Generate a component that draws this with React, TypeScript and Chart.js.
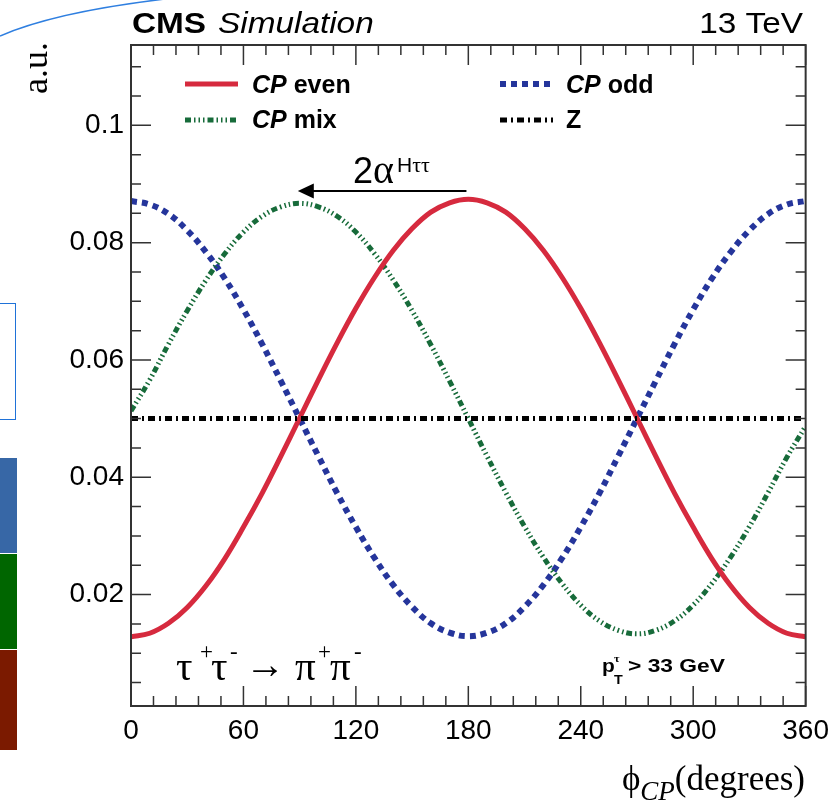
import React, { useEffect, useRef } from "react";
import { Chart, registerables } from "chart.js";

Chart.register(...registerables);

// ---------------- data ----------------
const phiDeg = [0, 10, 20, 30, 40, 50, 60, 70, 80, 90, 100, 110, 120, 130, 140, 150, 160, 170, 180, 190, 200, 210, 220, 230, 240, 250, 260, 270, 280, 290, 300, 310, 320, 330, 340, 350, 360];
const cpEven = [0.0128, 0.0134, 0.0151, 0.0178, 0.0215, 0.0261, 0.0315, 0.0373, 0.0436, 0.0501, 0.0566, 0.0629, 0.0688, 0.0741, 0.0787, 0.0824, 0.0852, 0.0868, 0.0874, 0.0868, 0.0852, 0.0824, 0.0787, 0.0741, 0.0688, 0.0629, 0.0566, 0.0501, 0.0436, 0.0373, 0.0315, 0.0261, 0.0215, 0.0178, 0.0151, 0.0134, 0.0128];
const cpOdd = [0.0871, 0.0865, 0.0849, 0.0821, 0.0784, 0.0739, 0.0686, 0.0627, 0.0564, 0.05, 0.0436, 0.0373, 0.0315, 0.0262, 0.0216, 0.0179, 0.0151, 0.0135, 0.0129, 0.0135, 0.0151, 0.0179, 0.0216, 0.0262, 0.0315, 0.0373, 0.0436, 0.05, 0.0564, 0.0627, 0.0686, 0.0739, 0.0784, 0.0821, 0.0849, 0.0865, 0.0871];
const cpMix = [0.0513, 0.0566, 0.0627, 0.0684, 0.0736, 0.0781, 0.0818, 0.0845, 0.0861, 0.0867, 0.0861, 0.0845, 0.0818, 0.0781, 0.0736, 0.0684, 0.0626, 0.0564, 0.05, 0.0436, 0.0374, 0.0316, 0.0264, 0.0219, 0.0182, 0.0155, 0.0139, 0.0133, 0.0139, 0.0155, 0.0182, 0.0219, 0.0264, 0.0316, 0.0374, 0.0434, 0.0487];
const zPhi = [0, 360];
const zValues = [0.05, 0.05];

const xTickValues = [0, 60, 120, 180, 240, 300, 360];
const xTickLabels = ["0", "60", "120", "180", "240", "300", "360"];
const yTickValues = [0.02, 0.04, 0.06, 0.08, 0.1];
const yTickLabels = ["0.02", "0.04", "0.06", "0.08", "0.1"];
const yMin = 0.001;
const yMax = 0.1137;

const RED = "#d62a3e";
const BLUE = "#25359b";
const GREEN = "#176b3a";
const BLACK = "#000000";

const evenDash: number[] = [];
const oddDash = [6, 5];
const mixDash = [6, 3, 1.5, 3, 1.5, 3, 1.5, 3];
const zDash = [7, 4, 2, 4];

const legendEntries = [
  { cp: "CP", rest: " even", color: RED, dash: evenDash, width: 5, col: 0, row: 0 },
  { cp: "CP", rest: " odd", color: BLUE, dash: oddDash, width: 6, col: 1, row: 0 },
  { cp: "CP", rest: " mix", color: GREEN, dash: mixDash, width: 5, col: 0, row: 1 },
  { cp: "", rest: "Z", color: BLACK, dash: zDash, width: 5, col: 1, row: 1 },
];

// arrow annotation (data units)
const arrowFrom = 179;
const arrowTo = 89;
const arrowY = 0.0888;

const SANS = "'Liberation Sans', Arial, Helvetica, sans-serif";
const SERIF = "'Liberation Serif', 'Times New Roman', serif";

function txt(
  ctx: CanvasRenderingContext2D,
  s: string,
  x: number,
  y: number,
  font: string,
  align: CanvasTextAlign = "left",
  sx = 1
): number {
  ctx.save();
  ctx.font = font;
  ctx.textAlign = align;
  ctx.textBaseline = "alphabetic";
  ctx.fillStyle = "#000";
  ctx.translate(x, y);
  ctx.scale(sx, 1);
  ctx.fillText(s, 0, 0);
  const w = ctx.measureText(s).width * sx;
  ctx.restore();
  return w;
}

function measure(ctx: CanvasRenderingContext2D, s: string, font: string, sx = 1) {
  ctx.save();
  ctx.font = font;
  const w = ctx.measureText(s).width * sx;
  ctx.restore();
  return w;
}

const decorPlugin = {
  id: "rootDecor",
  afterDraw(chart: any) {
    const ctx: CanvasRenderingContext2D = chart.ctx;
    const a = chart.chartArea;
    const xs = chart.scales.x;
    const ys = chart.scales.y;
    ctx.save();

    // frame
    ctx.strokeStyle = "#333";
    ctx.lineWidth = 2;
    ctx.setLineDash([]);
    ctx.strokeRect(a.left, a.top, a.right - a.left, a.bottom - a.top);

    // ticks (inside, all four sides)
    ctx.lineWidth = 1.5;
    ctx.beginPath();
    for (let k = 0; k <= 30; k++) {
      const v = k * 12;
      const px = xs.getPixelForValue(v);
      const len = k % 5 === 0 ? 20 : 10;
      ctx.moveTo(px, a.bottom);
      ctx.lineTo(px, a.bottom - len);
      ctx.moveTo(px, a.top);
      ctx.lineTo(px, a.top + len);
    }
    for (let k = 1; k <= 22; k++) {
      const v = k * 0.005;
      if (v < yMin || v > yMax) continue;
      const py = ys.getPixelForValue(v);
      const len = k % 4 === 0 ? 20 : 10;
      ctx.moveTo(a.left, py);
      ctx.lineTo(a.left + len, py);
      ctx.moveTo(a.right, py);
      ctx.lineTo(a.right - len, py);
    }
    ctx.stroke();

    // header
    txt(ctx, "CMS", 132, 33, `bold 29px ${SANS}`, "left", 1.15);
    txt(ctx, "Simulation", 218, 33, `italic 29px ${SANS}`, "left", 1.15);
    txt(ctx, "13 TeV", 803, 33, `29px ${SANS}`, "right", 1.15);

    // y title
    ctx.save();
    ctx.translate(47, 42);
    ctx.rotate(-Math.PI / 2);
    ctx.font = `36px ${SERIF}`;
    ctx.textAlign = "right";
    ctx.fillStyle = "#000";
    ctx.fillText("a.u.", 0, 0);
    ctx.restore();

    // x title
    const degFont = `35px ${SERIF}`;
    const cpFont = `italic 27px ${SERIF}`;
    const wDeg = measure(ctx, "(degrees)", degFont);
    txt(ctx, "(degrees)", 805, 790, degFont, "right");
    const wCP = measure(ctx, "CP", cpFont);
    txt(ctx, "CP", 805 - wDeg, 800, cpFont, "right");
    txt(ctx, "\u03D5", 805 - wDeg - wCP, 790, degFont, "right");

    // legend
    const colLine = [185, 500];
    const colText = [252, 566];
    const rowLine = [84, 120];
    const rowText = [93, 128];
    for (const e of legendEntries) {
      ctx.save();
      ctx.strokeStyle = e.color;
      ctx.lineWidth = e.width;
      ctx.setLineDash(e.dash);
      ctx.beginPath();
      ctx.moveTo(colLine[e.col], rowLine[e.row]);
      ctx.lineTo(colLine[e.col] + 53, rowLine[e.row]);
      ctx.stroke();
      ctx.restore();
      let x = colText[e.col];
      if (e.cp) x += txt(ctx, e.cp, x, rowText[e.row], `italic bold 25px ${SANS}`);
      txt(ctx, e.rest, x, rowText[e.row], `bold 25px ${SANS}`);
    }

    // arrow 2alpha
    const ax1 = xs.getPixelForValue(arrowFrom);
    const ax2 = xs.getPixelForValue(arrowTo);
    const ay = ys.getPixelForValue(arrowY);
    ctx.strokeStyle = "#000";
    ctx.fillStyle = "#000";
    ctx.lineWidth = 2;
    ctx.setLineDash([]);
    ctx.beginPath();
    ctx.moveTo(ax1, ay);
    ctx.lineTo(ax2 + 12, ay);
    ctx.stroke();
    ctx.beginPath();
    ctx.moveTo(ax2, ay);
    ctx.lineTo(ax2 + 16, ay - 7.5);
    ctx.lineTo(ax2 + 16, ay + 7.5);
    ctx.closePath();
    ctx.fill();

    let x2 = 353;
    x2 += txt(ctx, "2", x2, 183, `36px ${SANS}`);
    x2 += txt(ctx, "\u03B1", x2, 183, `40px ${SERIF}`);
    x2 += 3;
    x2 += txt(ctx, "H", x2, 172, `21px ${SANS}`);
    txt(ctx, "\u03C4\u03C4", x2, 172, `22px ${SERIF}`);

    // tau tau -> pi pi
    const big = `41px ${SERIF}`;
    const sup = `23px ${SERIF}`;
    const bl = 680;
    const sbl = 659;
    txt(ctx, "\u03C4", 176, bl, big);
    txt(ctx, "+", 200, sbl, sup);
    txt(ctx, "\u03C4", 211, bl, big);
    txt(ctx, "-", 230, sbl, sup);
    txt(ctx, "\u2192", 245, bl - 2, `40px ${SERIF}`);
    txt(ctx, "\u03C0", 295, bl, big);
    txt(ctx, "+", 318, sbl, sup);
    txt(ctx, "\u03C0", 330, bl, big);
    txt(ctx, "-", 354, sbl, sup);

    // pT > 33 GeV
    txt(ctx, "p", 602, 672, `bold 19px ${SANS}`, "left", 1.1);
    txt(ctx, "T", 614, 684, `bold 13px ${SANS}`, "left", 1.1);
    txt(ctx, "\u03C4", 614, 662, `bold 11px ${SERIF}`, "left", 1.1);
    txt(ctx, "> 33 GeV", 628, 672, `bold 19px ${SANS}`, "left", 1.2);

    ctx.restore();
  },
};

function toPoints(xs: number[], ys: number[]) {
  return xs.map((x, i) => ({ x, y: ys[i] }));
}

export default function App() {
  const ref = useRef<HTMLCanvasElement | null>(null);

  useEffect(() => {
    if (!ref.current) return;
    const chart = new Chart(ref.current, {
      type: "line",
      data: {
        datasets: [
          {
            label: "Z",
            data: toPoints(zPhi, zValues),
            borderColor: BLACK,
            borderWidth: 5,
            borderDash: zDash,
            pointRadius: 0,
            fill: false,
          },
          {
            label: "CP even",
            data: toPoints(phiDeg, cpEven),
            borderColor: RED,
            borderWidth: 5,
            pointRadius: 0,
            fill: false,
            tension: 0.4,
          },
          {
            label: "CP mix",
            data: toPoints(phiDeg, cpMix),
            borderColor: GREEN,
            borderWidth: 5,
            borderDash: mixDash,
            pointRadius: 0,
            fill: false,
            tension: 0.4,
          },
          {
            label: "CP odd",
            data: toPoints(phiDeg, cpOdd),
            borderColor: BLUE,
            borderWidth: 6,
            borderDash: oddDash,
            pointRadius: 0,
            fill: false,
            tension: 0.4,
          },
        ],
      },
      options: {
        responsive: false,
        animation: false,
        devicePixelRatio: 1,
        layout: { padding: { left: 0, top: 45, right: 31, bottom: 0 } },
        plugins: {
          legend: { display: false },
          tooltip: { enabled: false },
          title: { display: false },
        },
        elements: { point: { radius: 0 } },
        scales: {
          x: {
            type: "linear",
            min: 0,
            max: 360,
            grid: { display: false, drawTicks: false },
            border: { display: false },
            afterBuildTicks: (s: any) => {
              s.ticks = xTickValues.map((v) => ({ value: v }));
            },
            afterFit: (s: any) => {
              s.height = 98;
            },
            ticks: {
              padding: 8,
              maxRotation: 0,
              autoSkip: false,
              color: "#000",
              font: { family: SANS, size: 28 },
              callback: (_v: any, i: number) => xTickLabels[i],
            },
          },
          y: {
            type: "linear",
            min: yMin,
            max: yMax,
            grid: { display: false, drawTicks: false },
            border: { display: false },
            afterBuildTicks: (s: any) => {
              s.ticks = yTickValues.map((v) => ({ value: v }));
            },
            afterFit: (s: any) => {
              s.width = 131;
            },
            ticks: {
              padding: 7,
              autoSkip: false,
              color: "#000",
              font: { family: SANS, size: 28 },
              callback: (_v: any, i: number) => yTickLabels[i],
            },
          },
        },
      } as any,
      plugins: [decorPlugin],
    });
    return () => chart.destroy();
  }, []);

  return (
    <div style={{ position: "fixed", left: 0, top: 0, width: 837, height: 804, background: "#fff", overflow: "hidden" }}>
      <canvas ref={ref} width={837} height={804} style={{ position: "absolute", left: 0, top: 0, width: 837, height: 804 }} />
      <svg width={837} height={804} style={{ position: "absolute", left: 0, top: 0, pointerEvents: "none" }}>
        <path d="M0,36 Q55,12 165,-1" stroke="#2f7fe0" strokeWidth={1.5} fill="none" />
      </svg>
      <div style={{ position: "absolute", left: -2, top: 303, width: 18, height: 117, border: "1px solid #1f72d8", boxSizing: "border-box" }} />
      <div style={{ position: "absolute", left: 0, top: 458, width: 17, height: 95, background: "#3767a6" }} />
      <div style={{ position: "absolute", left: 0, top: 554, width: 17, height: 95, background: "#006600" }} />
      <div style={{ position: "absolute", left: 0, top: 650, width: 17, height: 100, background: "#7b1a00" }} />
    </div>
  );
}
